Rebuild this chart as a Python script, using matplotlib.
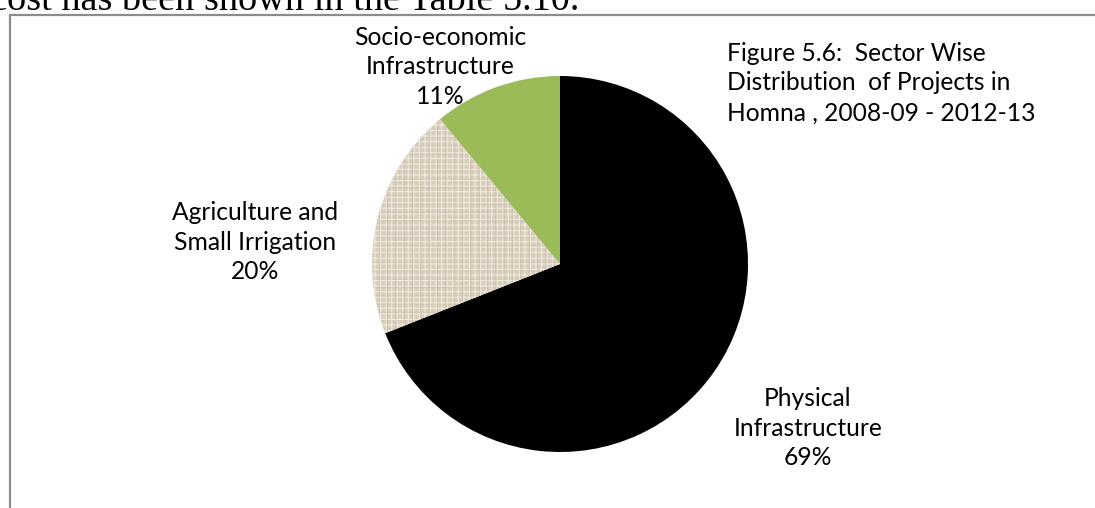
import matplotlib
matplotlib.use("Agg")
import matplotlib.pyplot as plt
from matplotlib.patches import Rectangle, Wedge

# Data
categories = ["Physical\nInfrastructure", "Agriculture and\nSmall Irrigation", "Socio-economic\nInfrastructure"]
values = [69, 20, 11]
colors = ["#000000", "#d8cebc", "#9bbb59"]
title_text = "Figure 5.6:  Sector Wise\nDistribution  of Projects in\nHomna , 2008-09 - 2012-13"
header_text = "cost has been shown in the Table 5.10."

W, H = 1095, 508
fig = plt.figure(figsize=(W / 100, H / 100), dpi=100)
ax = fig.add_axes([0, 0, 1, 1])

# chart border box
ax.add_patch(Rectangle((10, -20), W + 50, H + 20 - 15, fill=False,
                       edgecolor="#8c8c8c", linewidth=1.6, zorder=1))

plt.rcParams["hatch.linewidth"] = 0.8
wedges, _ = ax.pie(values, colors=colors, startangle=90, counterclock=False,
                   center=(560, H - 264), radius=188, frame=True,
                   wedgeprops=dict(linewidth=0))
ax.set_xlim(0, W)
ax.set_ylim(0, H)
ax.set_aspect("equal")
ax.axis("off")

# linen-like texture on the agriculture wedge
w = wedges[1]
w.set_hatch("+++")
w.set_edgecolor("#efe9de")
w.set_linewidth(0)
overlay = Wedge(w.center, w.r, w.theta1, w.theta2, facecolor="none",
                edgecolor="#bfb39c", hatch="||", linewidth=0, alpha=0.45)
ax.add_patch(overlay)
overlay2 = Wedge(w.center, w.r, w.theta1, w.theta2, facecolor="none",
                 edgecolor="#c9bea8", hatch="--", linewidth=0, alpha=0.35)
ax.add_patch(overlay2)

font = ["Lato", "DejaVu Sans"]
fs = 17.7
ls = 1.36
label_pos = [(808, 428), (255, 242), (440, 67)]
for cat, v, (x, y) in zip(categories, values, label_pos):
    ax.text(x, H - y, f"{cat}\n{v}%", ha="center", va="center", fontsize=fs,
            family=font, linespacing=ls, color="#000000")

ax.text(727, H - 83, title_text, ha="left", va="center", fontsize=fs,
        family=font, linespacing=ls)

fig.text(-0.009, 1 - 10 / H, header_text, ha="left", va="baseline",
         fontsize=27.5, family=["Liberation Serif", "DejaVu Serif"])

fig.savefig("out.png", dpi=100)
